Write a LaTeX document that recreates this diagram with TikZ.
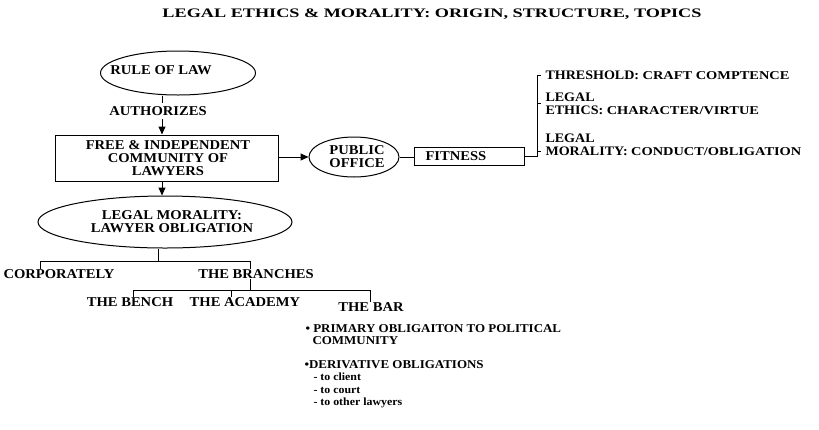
\documentclass[tikz,border=0pt]{standalone}
\usepackage{fontspec}
\setmainfont{Liberation Serif}
\newfontfamily\bodyf[FakeStretch=1.08]{Liberation Serif}
\newfontfamily\tailf[FakeStretch=1.2]{Liberation Serif}
\newfontfamily\titlef[FakeStretch=1.4]{Liberation Serif}
\usetikzlibrary{shapes.geometric,arrows.meta}
\begin{document}
\begin{tikzpicture}[x=1pt,y=-1pt,line width=1pt,
  txt/.style={font=\bodyf\bfseries\fontsize{13.5}{13}\selectfont, inner sep=0pt, align=center},
  lefttxt/.style={txt, align=left, anchor=west},
  rtxt/.style={font=\bodyf\bfseries\fontsize{13}{13}\selectfont, inner sep=0pt, align=left, anchor=west},
  small/.style={font=\bodyf\bfseries\fontsize{12}{12.5}\selectfont, inner sep=0pt, align=left, anchor=north west},
  ell/.style={draw, ellipse, inner sep=0pt},
  arr/.style={-{Triangle[length=8pt,width=7pt]}}]
\useasboundingbox (0,0) rectangle (819,429);

\node[font=\titlef\bfseries\fontsize{13}{13}\selectfont, inner sep=0pt] (title) at (432,14) {LEGAL ETHICS \& MORALITY: ORIGIN, STRUCTURE, TOPICS};

% Rule of law
\node[ell, minimum width=155pt, minimum height=44pt] (rule) at (178,73) {};
\node[txt] (ruletxt) at (161,70) {RULE OF LAW};

% community box
\node[draw, minimum width=223pt, minimum height=46pt, inner sep=0pt] (comm) at (166.5,158) {};
\node[txt] (commtxt) at (168,158) {FREE \& INDEPENDENT\\COMMUNITY OF\\LAWYERS};

\coordinate (spine) at (162,0);
\draw ([xshift=-16pt]rule.south) -- ++(0,7);
\node[txt] (auth) at (158,111) {AUTHORIZES};
\draw[arr] (auth.south -| spine) ++(0,3) -- (comm.north -| spine);

% legal morality
\node[ell, minimum width=254pt, minimum height=52pt] (lm) at (165,222) {};
\node[txt] (lmtxt) at (172,222) {LEGAL MORALITY:\\LAWYER OBLIGATION};
\draw[arr] (comm.south -| spine) -- (lm.north -| spine);

% corporately / branches
\node[lefttxt] (corp) at (3,274) {CORPORATELY};
\node[txt] (branches) at (256,274) {THE BRANCHES};
\draw (lm.south -| 158,0) -- (158,261) coordinate (j1);
\draw (corp.north -| 40,0) -- (40,261) -- (250,261) -- (branches.north -| 250,0);

\node[txt] (bench) at (130,302) {THE BENCH};
\node[txt] (academy) at (245,302) {THE ACADEMY};
\node[txt] (bar) at (371,307) {THE BAR};
\draw (branches.south -| 250,0) -- (250,290);
\draw (bench.north -| 133,0) -- (133,290) -- (370,290) -- (bar.north -| 370,0);
\draw (231,290) -- (academy.north -| 231,0);

% public office, fitness
\node[ell, minimum width=90pt, minimum height=40pt] (po) at (354,157) {};
\node[txt] (potxt) at (357,157) {PUBLIC\\OFFICE};
\draw[arr] (comm.east |- po.west) -- (po.west);
\node[draw, minimum width=110pt, minimum height=18pt, inner sep=0pt] (fit) at (469,156) {};
\node[lefttxt] (fittxt) at (425,156) {FITNESS};
\draw (po.east) -- (po.east -| fit.west);

% right bracket
\node[rtxt] (thr) at (545,75) {THRESHOLD: {\tailf\fontsize{12}{13}\selectfont CRAFT COMPTENCE}};
\node[rtxt] (eth) at (545,103.5) {LEGAL\\ETHICS: {\tailf\fontsize{12}{13}\selectfont CHARACTER/VIRTUE}};
\node[rtxt] (mor) at (545,144.5) {LEGAL\\MORALITY: {\tailf\fontsize{12}{13}\selectfont CONDUCT/OBLIGATION}};
\draw (fit.east) -- (537,156) coordinate (bk) -- (bk |- thr.west) -- ([xshift=-4pt]thr.west);
\draw (bk |- eth.west) -- ([xshift=-4pt]eth.west);
\draw (bk |- 0,151) -- (541,151);

% bottom notes
\node[small] (prim) at (305,324) {\textbullet\ PRIMARY OBLIGAITON TO POLITICAL\\\hspace*{7pt}COMMUNITY};
\node[small] (deriv) at (304,360) {\textbullet DERIVATIVE OBLIGATIONS\\
  \hspace*{9pt}{\fontsize{11}{12}\selectfont - to client}\\
  \hspace*{9pt}{\fontsize{11}{12}\selectfont - to court}\\
  \hspace*{9pt}{\fontsize{11}{12}\selectfont - to other lawyers}};
\end{tikzpicture}
\end{document}
